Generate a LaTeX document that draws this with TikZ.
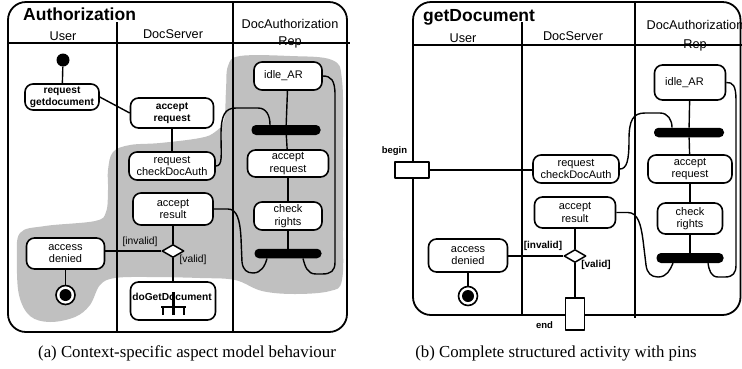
\documentclass[tikz,border=0pt]{standalone}
\usepackage{fontspec}
\setmainfont{Liberation Sans}
\newfontfamily\serifcap{Liberation Serif}
\usetikzlibrary{shapes.geometric,calc}

\definecolor{aspectgrey}{RGB}{192,192,192}

\newcommand\actfont{\fontsize{11}{12.5}\selectfont}
\newcommand\actboldfont{\fontsize{10.2}{12}\selectfont\bfseries}
\newcommand\swimfont{\fontsize{12.7}{14}\selectfont}
\newcommand\framefont{\fontsize{17.5}{19}\selectfont\bfseries}
\newcommand\guardfont{\fontsize{10.3}{12}\selectfont}
\newcommand\pinfont{\fontsize{9.5}{11}\selectfont\bfseries}
\newcommand\captionfnt{\serifcap\fontsize{16.8}{19}\selectfont}

\tikzset{
  act/.style={draw, line width=1.6pt, rounded corners=8pt, fill=white,
    align=center, inner sep=0pt, font=\actfont},
  boldact/.style={act, font=\actboldfont},
  syncbar/.style={fill=black, rounded corners=4.5pt, inner sep=0pt},
  flow/.style={line width=1.4pt},
  lane/.style={line width=1.8pt},
  pinbox/.style={draw, fill=white, line width=1.6pt, inner sep=0pt},
  choice/.style={diamond, draw, fill=white, line width=1.5pt, inner sep=0pt,
    minimum width=22pt, minimum height=13pt},
  startdot/.style={circle, fill=black, inner sep=0pt, minimum size=13pt},
  enddot/.style={circle, draw, fill=white, line width=1.6pt, inner sep=0pt,
    minimum size=19pt},
  label/.style={inner sep=0pt}
}

\begin{document}
\begin{tikzpicture}[x=1pt, y=-1pt, line join=round]
\useasboundingbox (0,0) rectangle (742,368);

% ---------------- (a) Authorization ----------------
% shaded aspect region
\fill[aspectgrey] plot[smooth cycle, tension=0.6] coordinates {
  (228,66) (240,56) (290,56) (332,60) (342,80) (343,150) (343,230)
  (342,280) (330,291) (295,294) (262,291) (235,280) (200,278) (150,277)
  (115,278) (100,285) (90,305) (75,317) (50,322) (30,316) (19,295)
  (17,260) (20,233) (45,226) (95,221) (106,212) (108,190) (108,170)
  (113,152) (130,145) (160,143) (200,138) (215,132) (224,120) (226,90)};

% frame and swimlanes
\draw[lane, rounded corners=18pt] (8,2) rectangle (347,332);
\draw[lane] (8,43) -- (350,43);
\draw[lane] (117,22) -- (117,332);
\draw[lane] (233,2) -- (233,332);

\node[label, font=\framefont, anchor=base west] (titleA) at (23,20.5) {Authorization};
\node[label, font=\swimfont, anchor=base] (userA) at (63,40) {User};
\node[label, font=\swimfont, anchor=base] (serverA) at (173,38) {DocServer};
\node[label, font=\swimfont, anchor=base] (repA1) at (290,28) {DocAuthorization};
\node[label, font=\swimfont, anchor=base] (repA2) at (290,45) {Rep};

% activities
\node[startdot] (initA) at (63,60) {};
\node[boldact, minimum width=74pt, minimum height=26pt] (reqget) at (62,97) {request\\getdocument};
\node[boldact, minimum width=83pt, minimum height=30pt] (accreq) at (172,113) {accept\\request};
\node[act, minimum width=86pt, minimum height=28pt] (reqchk) at (172,166) {request\\checkDocAuth};
\node[act, minimum width=80pt, minimum height=32pt] (accres) at (173,209) {accept\\result};
\node[choice] (decA) at (173,251) {};
\node[act, minimum width=78pt, minimum height=31pt] (accden) at (65.5,253.5) {access\\denied};
\node[enddot] (finA) at (65.5,295) {};
\fill (finA.center) circle (6pt);
\node[boldact, minimum width=85pt, minimum height=38pt] (doget) at (173,301) {};
\node[label, font=\actboldfont] (dogettxt) at (172,297) {doGetDocument};
% rake symbol of the call behaviour action
\draw[line width=2.4pt] (161,307) -- (186,307);
\draw[line width=2.4pt] (163,307) -- (163,315);
\draw[line width=2.4pt] (173.5,292) -- (173.5,315);
\draw[line width=2.4pt] (184,307) -- (184,315);

\node[act, minimum width=68pt, minimum height=28pt] (idle) at (288,76) {idle\_AR\hspace{9pt}};
\node[syncbar, minimum width=69pt, minimum height=10pt] (bar1) at (286,130) {};
\node[act, minimum width=81pt, minimum height=27pt] (accR) at (288,163.5) {accept\\request};
\node[act, minimum width=68pt, minimum height=28pt] (chk) at (288,216) {check\\rights};
\node[syncbar, minimum width=67pt, minimum height=9.5pt] (bar2) at (288,253.5) {};

\node[label, font=\guardfont] (invA) at (140,242) {[invalid]};
\node[label, font=\guardfont] (valA) at (193,260) {[valid]};

% flows
\draw[flow] (initA) -- (reqget);
\draw[flow] (reqget.east) -- (accreq.west);
\draw[flow] (accreq) -- (reqchk);
\draw[flow] (accres) -- (decA);
\draw[flow] (decA) -- (doget);
\draw[flow] (decA.west) -- (decA.west -| accden.east);
\draw[flow] (accden) -- (finA);
\draw[flow] (idle) -- (bar1);
\draw[flow] (bar1) -- (accR);
\draw[flow] (accR) -- (chk);
\draw[flow] (chk) -- (bar2);
\draw[flow] (reqchk.east) .. controls (223,166) and (221,155) .. (221,135)
  .. controls (221,115) and (225,108) .. (236,108) -- (258,108)
  .. controls (266,108) and (270,115) .. ([xshift=-16pt]bar1.north);
\draw[flow] (idle.east) .. controls (331,76) and (335,80) .. (335,95) -- (335,262)
  .. controls (335,271) and (331,274) .. (322,274) -- (316,274)
  .. controls (307,274) and (305,266) .. ([xshift=15pt]bar2.south);
\draw[flow] (accres.east) -- (228,209) .. controls (237,209) and (240,220) .. (241,238)
  -- (242,262) .. controls (243,270) and (247,273) .. (253,273)
  .. controls (261,273) and (265,266) .. ([xshift=-21pt]bar2.south);

% ---------------- (b) getDocument ----------------
\draw[lane, rounded corners=18pt] (413,2) rectangle (740.5,315);
\draw[lane] (413,45) -- (742,45);
\draw[lane] (522,22) -- (522,315);
\draw[lane] (635,2) -- (635,318);

\node[label, font=\framefont, anchor=base west] (titleB) at (423,21.7) {getDocument};
\node[label, font=\swimfont, anchor=base] (userB) at (463,42.5) {User};
\node[label, font=\swimfont, anchor=base] (serverB) at (573,40) {DocServer};
\node[label, font=\swimfont, anchor=base] (repB1) at (695,29) {DocAuthorization};
\node[label, font=\swimfont, anchor=base] (repB2) at (695,48) {Rep};

\node[pinbox, minimum width=34pt, minimum height=16pt] (beginpin) at (412,170) {};
\node[label, font=\pinfont] (begintxt) at (394.5,151) {begin};
\node[act, minimum width=86pt, minimum height=28pt] (reqchkB) at (576,169) {request\\checkDocAuth};
\node[act, minimum width=81pt, minimum height=31pt] (accresB) at (575,212.5) {accept\\result};
\node[choice] (decB) at (575,256) {};
\node[act, minimum width=79pt, minimum height=33pt] (accdenB) at (468,255.5) {access\\denied};
\node[enddot] (finB) at (468,296) {};
\fill (finB.center) circle (6pt);
\node[pinbox, minimum width=19pt, minimum height=32pt] (endpin) at (575,314) {};
\node[label, font=\pinfont] (endtxt) at (544.5,325) {end};

\node[act, minimum width=71pt, minimum height=35pt] (idleB) at (690,82.5) {idle\_AR\hspace{11pt}};
\node[syncbar, minimum width=70pt, minimum height=9.5pt] (bar1B) at (689,132.5) {};
\node[act, minimum width=84pt, minimum height=28pt] (accRB) at (690,169) {accept\\request};
\node[act, minimum width=65pt, minimum height=31pt] (chkB) at (690,218.5) {check\\rights};
\node[syncbar, minimum width=67pt, minimum height=10pt] (bar2B) at (690,258) {};

\node[label, font=\pinfont\fontsize{10}{12}\selectfont] (invB) at (543,246) {[invalid]};
\node[label, font=\pinfont\fontsize{10}{12}\selectfont] (valB) at (596,265) {[valid]};

\draw[flow] (beginpin.east) -- (beginpin.east -| reqchkB.west);
\draw[flow] (accresB) -- (decB);
\draw[flow] (decB) -- (endpin);
\draw[flow] (decB.west) -- (decB.west -| accdenB.east);
\draw[flow] (accdenB) -- (finB);
\draw[flow] (idleB) -- (bar1B);
\draw[flow] (bar1B) -- (accRB);
\draw[flow] (accRB) -- (chkB);
\draw[flow] (chkB) -- (bar2B);
\draw[flow] (reqchkB.east) .. controls (627,169) and (629,160) .. (629,140)
  .. controls (629,120) and (633,113) .. (645,113) -- (660,113)
  .. controls (668,113) and (672,120) .. ([xshift=-17pt]bar1B.north);
\draw[flow] (idleB.east) .. controls (733,82) and (736,86) .. (736,100) -- (736,265)
  .. controls (736,273) and (733,277) .. (725,277) -- (718,277)
  .. controls (711,277) and (709,270) .. ([xshift=18pt]bar2B.south);
\draw[flow] (accresB.east) -- (628,212.5) .. controls (638,212.5) and (641,225) .. (643,240)
  -- (646,265) .. controls (647,273) and (651,277) .. (658,277)
  .. controls (667,277) and (670,270) .. ([xshift=-17pt]bar2B.south);

% ---------------- captions ----------------
\node[label, font=\captionfnt, anchor=base] (capA) at (187,357) {(a) Context-specific aspect model behaviour};
\node[label, font=\captionfnt, anchor=base] (capB) at (556,357) {(b) Complete structured activity with pins};
\end{tikzpicture}
\end{document}
